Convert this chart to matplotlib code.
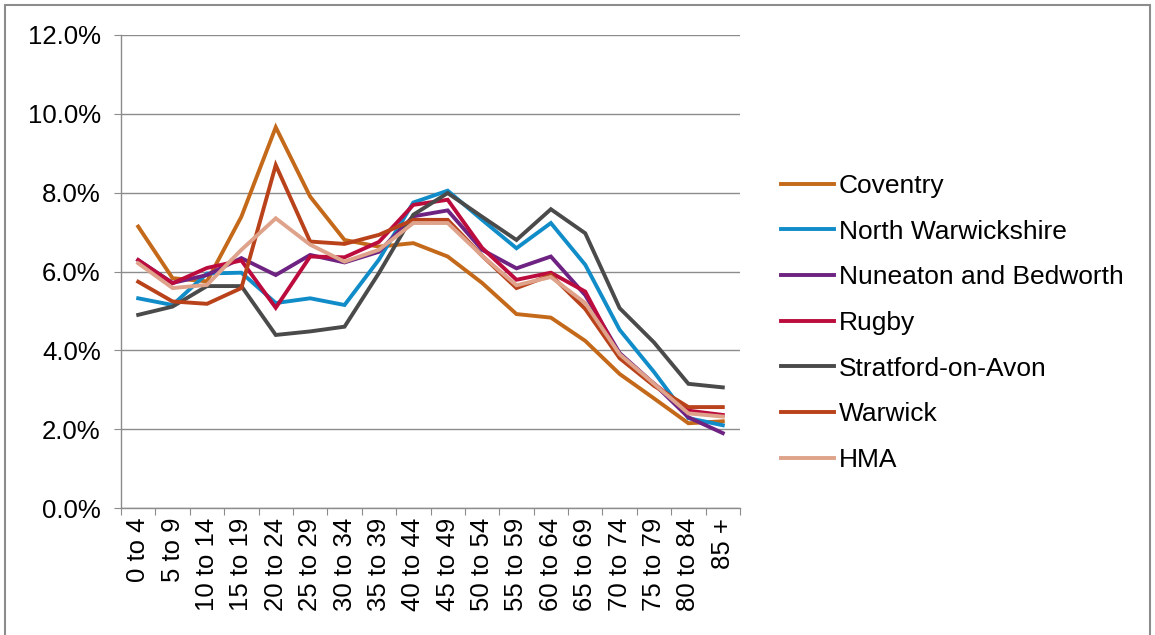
import matplotlib
matplotlib.use('Agg')
import matplotlib.pyplot as plt
import matplotlib.ticker as ticker
from matplotlib.patches import Rectangle

plt.rcParams['font.family'] = ['Liberation Sans', 'DejaVu Sans']

age_groups = ['0 to 4', '5 to 9', '10 to 14', '15 to 19', '20 to 24', '25 to 29',
              '30 to 34', '35 to 39', '40 to 44', '45 to 49', '50 to 54', '55 to 59',
              '60 to 64', '65 to 69', '70 to 74', '75 to 79', '80 to 84', '85 +']

coventry = [7.14, 5.83, 5.75, 7.39, 9.66, 7.90, 6.80, 6.63, 6.72, 6.38, 5.71, 4.92,
            4.83, 4.24, 3.40, 2.78, 2.15, 2.20]
north_warwickshire = [5.32, 5.15, 5.95, 5.97, 5.20, 5.32, 5.15, 6.30, 7.75, 8.05, 7.31, 6.59,
                      7.23, 6.17, 4.52, 3.45, 2.28, 2.10]
nuneaton = [6.29, 5.71, 5.91, 6.34, 5.91, 6.42, 6.23, 6.50, 7.40, 7.55, 6.55, 6.08,
            6.38, 5.40, 3.93, 3.15, 2.30, 1.90]
rugby = [6.29, 5.70, 6.09, 6.28, 5.08, 6.38, 6.36, 6.75, 7.69, 7.82, 6.60, 5.79,
         5.97, 5.49, 3.84, 3.15, 2.47, 2.36]
stratford = [4.90, 5.11, 5.63, 5.63, 4.39, 4.48, 4.60, 5.96, 7.44, 7.99, 7.39, 6.80,
             7.58, 6.97, 5.07, 4.20, 3.15, 3.06]
warwick = [5.74, 5.24, 5.18, 5.58, 8.70, 6.76, 6.70, 6.93, 7.31, 7.31, 6.40, 5.58,
           5.91, 5.05, 3.80, 3.10, 2.56, 2.56]
hma = [6.21, 5.58, 5.66, 6.55, 7.35, 6.68, 6.25, 6.55, 7.23, 7.23, 6.40, 5.65,
       5.86, 5.20, 3.90, 3.15, 2.40, 2.32]

series = [
    ('Coventry', coventry, '#C4691A'),
    ('North Warwickshire', north_warwickshire, '#108CC8'),
    ('Nuneaton and Bedworth', nuneaton, '#6E2382'),
    ('Rugby', rugby, '#BC0C3E'),
    ('Stratford-on-Avon', stratford, '#4A4A4A'),
    ('Warwick', warwick, '#B9421A'),
    ('HMA', hma, '#DFA28A'),
]

fig = plt.figure(figsize=(11.55, 6.35), dpi=100)
ax = fig.add_axes([121 / 1155, 1 - 508 / 635, (740 - 121) / 1155, (508 - 35) / 635])

x = list(range(len(age_groups)))
for name, vals, col in series:
    ax.plot(x, vals, color=col, linewidth=2.8, label=name, solid_joinstyle='miter')

ax.set_xlim(-0.5, len(age_groups) - 0.5)
ax.set_ylim(0, 12)
ax.yaxis.set_major_locator(ticker.MultipleLocator(2))
ax.yaxis.set_major_formatter(ticker.FuncFormatter(lambda v, p: f'{v:.1f}%'))
ax.grid(axis='y', color='#8C8C8C', linewidth=1.0)
ax.set_axisbelow(True)

# category boundaries get tick marks, labels sit in the middle
ax.set_xticks([i - 0.5 for i in range(len(age_groups) + 1)], minor=False)
ax.set_xticklabels([])
ax.set_xticks(x, minor=True)
ax.set_xticklabels(age_groups, minor=True, rotation=90, fontsize=18.5)
ax.tick_params(axis='x', which='minor', length=0, pad=7)
ax.tick_params(axis='x', which='major', length=5, color='#8C8C8C')
ax.tick_params(axis='y', length=5, color='#8C8C8C', labelsize=18.5, pad=9.5)

for side in ['top', 'right']:
    ax.spines[side].set_visible(False)
for side in ['left', 'bottom']:
    ax.spines[side].set_color('#8C8C8C')
    ax.spines[side].set_linewidth(1.0)

leg = fig.legend(loc='upper left', bbox_to_anchor=(781 / 1155, 1 - 174 / 635),
                 frameon=False, fontsize=19, handlelength=2.0, handletextpad=0.2,
                 labelspacing=0.82, borderpad=0, borderaxespad=0)

fig.patches.append(Rectangle((5 / 1155, -0.05), 1 - 10 / 1155, 1.05 - 5 / 635,
                             transform=fig.transFigure, fill=False,
                             edgecolor='#8C8C8C', linewidth=1.5))

fig.savefig('out.png', dpi=100)
